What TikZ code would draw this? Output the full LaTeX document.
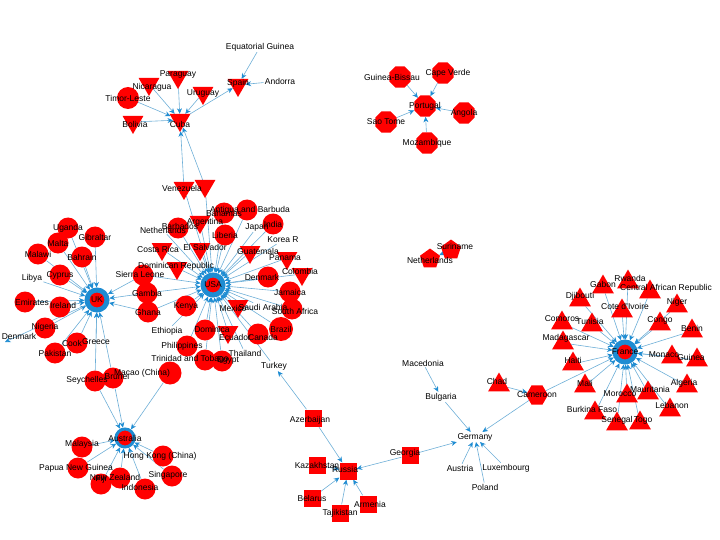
\documentclass[tikz,border=0pt]{standalone}
\usepackage{fontspec}
\setmainfont{Liberation Sans}
\usepackage{tikz}
\usetikzlibrary{arrows.meta}
\usetikzlibrary{shapes.geometric}
\definecolor{edgeblue}{RGB}{110,175,215}
\definecolor{hubblue}{RGB}{30,140,210}
\definecolor{nodered}{RGB}{255,0,0}
\pgfdeclarelayer{bg}
\pgfdeclarelayer{fg}
\pgfsetlayers{bg,main,fg}
\newcommand{\lbfont}{\fontsize{8.5}{9}\selectfont}
\newcommand{\drawlink}{\draw[draw=edgeblue, line width=0.6pt, -{Stealth[length=5.5pt, width=5pt, color=hubblue]}]}

\begin{document}
\begin{tikzpicture}[x=1pt,y=-1pt,
    lbl/.style={font=\lbfont,inner sep=0pt},
    txt/.style={font=\lbfont,inner sep=1pt},
    circ/.style={circle,fill=nodered,minimum size=21pt,inner sep=0pt},
    tridown/.style={regular polygon,regular polygon sides=3,shape border rotate=180,fill=nodered,minimum size=24pt,inner sep=0pt},
    triup/.style={regular polygon,regular polygon sides=3,fill=nodered,minimum size=25pt,inner sep=0pt},
    octa/.style={regular polygon,regular polygon sides=8,fill=nodered,minimum size=23pt,inner sep=0pt},
    penta/.style={regular polygon,regular polygon sides=5,fill=nodered,minimum size=21pt,inner sep=0pt},
    hexa/.style={regular polygon,regular polygon sides=6,fill=nodered,minimum size=22pt,inner sep=0pt},
    sq/.style={rectangle,fill=nodered,minimum size=17pt,inner sep=0pt},
    hub/.style={circle,fill=nodered,draw=hubblue,line width=5pt,minimum size=20pt,inner sep=0pt}]
    \useasboundingbox (0,0) rectangle (720,540);

    % Cuba and Spain
    \node[tridown] (cuba) at (180,120) {};
    \node[tridown] (spain) at (238,85) {};
    \node[tridown] (paraguay) at (178,77) {};
    \node[tridown] (nicaragua) at (149,84) {};
    \node[tridown] (uruguay) at (203,93) {};
    \node[circ,minimum size=22pt] (timor) at (128,98) {};
    \node[tridown] (bolivia) at (133,122) {};

    % Portugal
    \node[octa] (portugal) at (425,106) {};
    \node[octa] (capeverde) at (443,73) {};
    \node[octa] (guineab) at (400,77) {};
    \node[octa] (angola) at (464,113) {};
    \node[octa] (saotome) at (386,122) {};
    \node[octa] (mozambique) at (427,143) {};

    % Netherlands
    \node[penta] (netherlands) at (430,259) {};
    \node[penta] (suriname) at (451,250) {};

    % USA
    \node[hub] (usa) at (213,285) {};
    \node[tridown] (venezuela) at (184,188) {};
    \node[tridown] (ven2) at (205,186) {};
    \node[circ] (bahamas) at (224,213) {};
    \node[circ] (antigua) at (247,210) {};
    \node[tridown] (argentina) at (200,222) {};
    \node[circ] (barbados) at (178,228) {};
    \node[circ] (liberia) at (225,235) {};
    \node[circ] (india) at (273,224) {};
    \node[tridown] (costarica) at (162,249) {};
    \node[tridown] (elsalvador) at (200,249) {};
    \node[tridown] (guatemala) at (250,252) {};
    \node[tridown] (panama) at (287,258) {};
    \node[tridown] (dominicanrep) at (177,268) {};
    \node[circ] (sierraleone) at (143,275) {};
    \node[tridown] (colombia) at (302,274) {};
    \node[circ] (denmark2) at (268,277) {};
    \node[circ] (gambia) at (147,293) {};
    \node[circ] (ghana) at (148,312) {};
    \node[circ] (jamaica) at (290,292) {};
    \node[circ] (southafrica) at (292,309) {};
    \node[tridown] (mexico) at (238,306) {};
    \node[circ] (kenya) at (186,306) {};
    \node[circ,minimum size=24pt] (brazil) at (281,329) {};
    \node[circ] (canada) at (258,334) {};
    \node[tridown] (ecuador) at (228,332) {};
    \node[circ] (dominica) at (205,330) {};
    \node[circ] (philippines) at (187,346) {};
    \node[circ] (trinidad) at (205,360) {};
    \node[circ] (egypt) at (222,361) {};

    % UK
    \node[hub] (uk) at (97,300) {};
    \node[circ] (uganda) at (68,228) {};
    \node[circ] (gibraltar) at (95,237) {};
    \node[circ] (malta) at (58,243) {};
    \node[circ] (malawi) at (38,254) {};
    \node[circ] (bahrain) at (82,257) {};
    \node[circ] (cyprus) at (60,275) {};
    \node[circ] (emirates) at (25,302) {};
    \node[circ] (ireland) at (60,307) {};
    \node[circ] (nigeria) at (45,328) {};
    \coordinate (dkend) at (5,342);
    \node[circ] (pakistan) at (55,353) {};
    \node[circ] (cook) at (77,343) {};
    \node[circ] (seychelles) at (95,381) {};
    \node[circ] (brunei) at (113,378) {};
    \node[circ,minimum size=23pt] (macao) at (170,373) {};

    % Australia
    \node[hub,line width=3pt,minimum size=18pt] (australia) at (125,438) {};
    \node[circ] (malaysia) at (82,447) {};
    \node[circ] (png) at (78,468) {};
    \node[circ] (hongkong) at (163,456) {};
    \node[circ] (singapore) at (172,476) {};
    \node[circ] (newzealand) at (120,478) {};
    \node[circ] (fiji) at (101,484) {};
    \node[circ] (indonesia) at (145,489) {};

    % Russia
    \node[sq] (russia) at (348,471) {};
    \node[sq] (azerbaijan) at (313,418) {};
    \node[sq] (kazakhstan) at (317,465) {};
    \node[sq] (georgia) at (410,455) {};
    \node[sq] (belarus) at (312,498) {};
    \node[sq] (tajikistan) at (340,513) {};
    \node[sq] (armenia) at (368,504) {};

    % Germany
    \node[triup] (chad) at (499,385) {};
    \node[hexa] (cameroon) at (537,395) {};

    % France
    \node[hub] (france) at (625,352) {};
    \node[triup] (rwanda) at (628,282) {};
    \node[triup] (gabon) at (603,287) {};
    \node[triup] (car) at (650,292) {};
    \node[triup] (djibouti) at (580,300) {};
    \node[triup] (cotedivoire) at (622,311) {};
    \node[triup] (niger) at (677,306) {};
    \node[triup] (comoros) at (562,323) {};
    \node[triup] (tunisia) at (592,325) {};
    \node[triup] (congo) at (660,324) {};
    \node[triup] (benin) at (692,331) {};
    \node[triup] (madagascar) at (563,343) {};
    \node[triup] (monaco) at (672,357) {};
    \node[triup] (guinea) at (697,360) {};
    \node[triup] (haiti) at (573,364) {};
    \node[triup] (mali) at (585,386) {};
    \node[triup] (algeria) at (687,386) {};
    \node[triup] (morocco) at (627,396) {};
    \node[triup] (mauritania) at (648,393) {};
    \node[triup] (lebanon) at (670,410) {};
    \node[triup] (burkina) at (595,413) {};
    \node[triup] (senegal) at (617,424) {};
    \node[triup] (togo) at (640,423) {};

    % Labels and plain text nodes
    \begin{pgfonlayer}{fg}
    \node[txt] (eqguinea) at (260,47) {Equatorial Guinea};
    \node[txt] (andorra) at (280,81) {Andorra};
    \node[txt] (nethlab) at (163,230) {Netherlands};
    \node[txt] (japan) at (257,227) {Japan};
    \node[txt] (korea) at (283,240) {Korea R};
    \node[txt] (saudi) at (263,307) {Saudi Arabia};
    \node[txt] (ethiopia) at (167,331) {Ethiopia};
    \node[txt] (thailand) at (245,353) {Thailand};
    \node[txt] (turkey) at (274,366) {Turkey};
    \node[txt] (libya) at (32,278) {Libya};
    \node[txt] (denmark) at (19,336) {Denmark};
    \node[txt] (greece) at (96,342) {Greece};
    \node[txt] (germany) at (475,437) {Germany};
    \node[txt] (macedonia) at (423,363) {Macedonia};
    \node[txt] (bulgaria) at (441,397) {Bulgaria};
    \node[txt] (austria) at (460,468) {Austria};
    \node[txt] (luxembourg) at (506,468) {Luxembourg};
    \node[txt] (poland) at (485,487) {Poland};
    \foreach \n/\t/\dx/\dy in {cuba/Cuba/0/4, spain/Spain/0/-2, paraguay/Paraguay/0/-3,
        nicaragua/Nicaragua/3/3, uruguay/Uruguay/0/0, timor/Timor-Leste/0/0, bolivia/Bolivia/2/2,
        portugal/Portugal/0/0, capeverde/Cape Verde/5/0, guineab/Guinea-Bissau/-8/0,
        angola/Angola/0/0, saotome/Sao Tome/0/0, mozambique/Mozambique/0/0,
        netherlands/Netherlands/0/1, suriname/Suriname/4/-4,
        usa/USA/0/0, venezuela/Venezuela/-2/0, bahamas/Bahamas/0/0, antigua/Antigua and Barbuda/3/0,
        argentina/Argentina/5/0, barbados/Barbados/2/-2, liberia/Liberia/0/0, india/India/0/0,
        costarica/Costa Rica/-4/0, elsalvador/El Salvador/5/-2, guatemala/Guatemala/8/-1,
        panama/Panama/-2/0, dominicanrep/Dominican Republic/-1/-2, sierraleone/Sierra Leone/-3/-1,
        colombia/Colombia/-2/-3, denmark2/Denmark/-6/0, gambia/Gambia/0/0, ghana/Ghana/0/0,
        jamaica/Jamaica/0/0, southafrica/South Africa/3/2, mexico/Mexico/-5/2, kenya/Kenya/0/0,
        brazil/Brazil/0/0, canada/Canada/5/3, ecuador/Ecuador/7/5, dominica/Dominica/7/-1,
        philippines/Philippines/-5/0, trinidad/Trinidad and Tobago/-15/-1, egypt/Egypt/6/-1,
        uk/UK/0/0, uganda/Uganda/0/0, gibraltar/Gibraltar/0/0, malta/Malta/0/0, malawi/Malawi/0/0,
        bahrain/Bahrain/0/0, cyprus/Cyprus/0/0, emirates/Emirates/7/0, ireland/Ireland/3/-2,
        nigeria/Nigeria/0/-1, pakistan/Pakistan/0/0, cook/Cook/-5/0, seychelles/Seychelles/-8/-1,
        brunei/Brunei/4/-2, macao/Macao (China)/-28/0,
        australia/Australia/0/0, malaysia/Malaysia/0/-3, png/Papua New Guinea/-2/0,
        hongkong/Hong Kong (China)/-3/0, singapore/Singapore/-4/-1, newzealand/New Zealand/-5/-1,
        fiji/Fiji/0/-5, indonesia/Indonesia/-5/-2,
        russia/Russia/-3/-2, azerbaijan/Azerbaijan/-3/2, kazakhstan/Kazakhstan/0/0,
        georgia/Georgia/-5/-2, belarus/Belarus/0/0, tajikistan/Tajikistan/0/0, armenia/Armenia/2/0,
        chad/Chad/-2/-4, cameroon/Cameroon/0/0,
        france/France/0/0, rwanda/Rwanda/2/-4, gabon/Gabon/0/-3, car/Central African Republic/16/-4,
        djibouti/Djibouti/0/-4, cotedivoire/Cote d'Ivoire/3/-5, niger/Niger/0/-4, comoros/Comoros/0/-4,
        tunisia/Tunisia/-2/-4, congo/Congo/0/-4, benin/Benin/0/-3, madagascar/Madagascar/3/-5,
        monaco/Monaco/-8/-2, guinea/Guinea/-6/-3, haiti/Haiti/0/-4, mali/Mali/0/-3,
        algeria/Algeria/-3/-3, morocco/Morocco/-7/-2, mauritania/Mauritania/2/-4,
        lebanon/Lebanon/2/-5, burkina/Burkina Faso/-3/-4, senegal/Senegal/0/-4, togo/Togo/3/-3}
        \node[lbl] (\n-l) at ([shift={(\dx,\dy)}]\n) {\t};
    \end{pgfonlayer}

    % Draw links
    \begin{pgfonlayer}{bg}
    \foreach \n in {paraguay,nicaragua,uruguay,timor,bolivia,venezuela,ven2}
        \drawlink (\n) -- (cuba);
    \foreach \n in {cuba,eqguinea,andorra}
        \drawlink (\n) -- (spain);
    \foreach \n in {guineab,capeverde,angola,saotome,mozambique}
        \drawlink (\n) -- (portugal);
    \drawlink (suriname) -- (netherlands);
    \foreach \n in {venezuela,ven2,bahamas,antigua,argentina,barbados,nethlab,liberia,japan,india,korea,
        costarica,elsalvador,guatemala,panama,dominicanrep,sierraleone,colombia,denmark2,gambia,ghana,
        jamaica,southafrica,mexico,saudi,kenya,brazil,canada,ecuador,dominica,ethiopia,philippines,
        thailand,trinidad,egypt,turkey}
        \drawlink (\n) -- (usa);
    \foreach \n in {uganda,gibraltar,malta,malawi,bahrain,libya,cyprus,emirates,ireland,nigeria,
        pakistan,cook,greece,sierraleone,gambia,ghana,seychelles,brunei}
        \drawlink (\n) -- (uk);
    \drawlink (uk) -- (dkend);
    \foreach \n in {seychelles,brunei,macao,malaysia,png,hongkong,singapore,newzealand,fiji,indonesia}
        \drawlink (\n) -- (australia);
    \foreach \n in {azerbaijan,kazakhstan,belarus,tajikistan,armenia,georgia}
        \drawlink (\n) -- (russia);
    \drawlink (azerbaijan) -- (turkey);
    \drawlink (macedonia) -- (bulgaria);
    \foreach \n in {bulgaria,austria,poland,luxembourg,georgia,cameroon}
        \drawlink (\n) -- (germany);
    \drawlink (chad) -- (cameroon);
    \foreach \n in {cameroon,rwanda,gabon,car,djibouti,cotedivoire,niger,comoros,tunisia,congo,benin,
        madagascar,monaco,guinea,haiti,mali,algeria,morocco,mauritania,lebanon,burkina,senegal,togo}
        \drawlink (\n) -- (france);
    \end{pgfonlayer}
\end{tikzpicture}
\end{document}
